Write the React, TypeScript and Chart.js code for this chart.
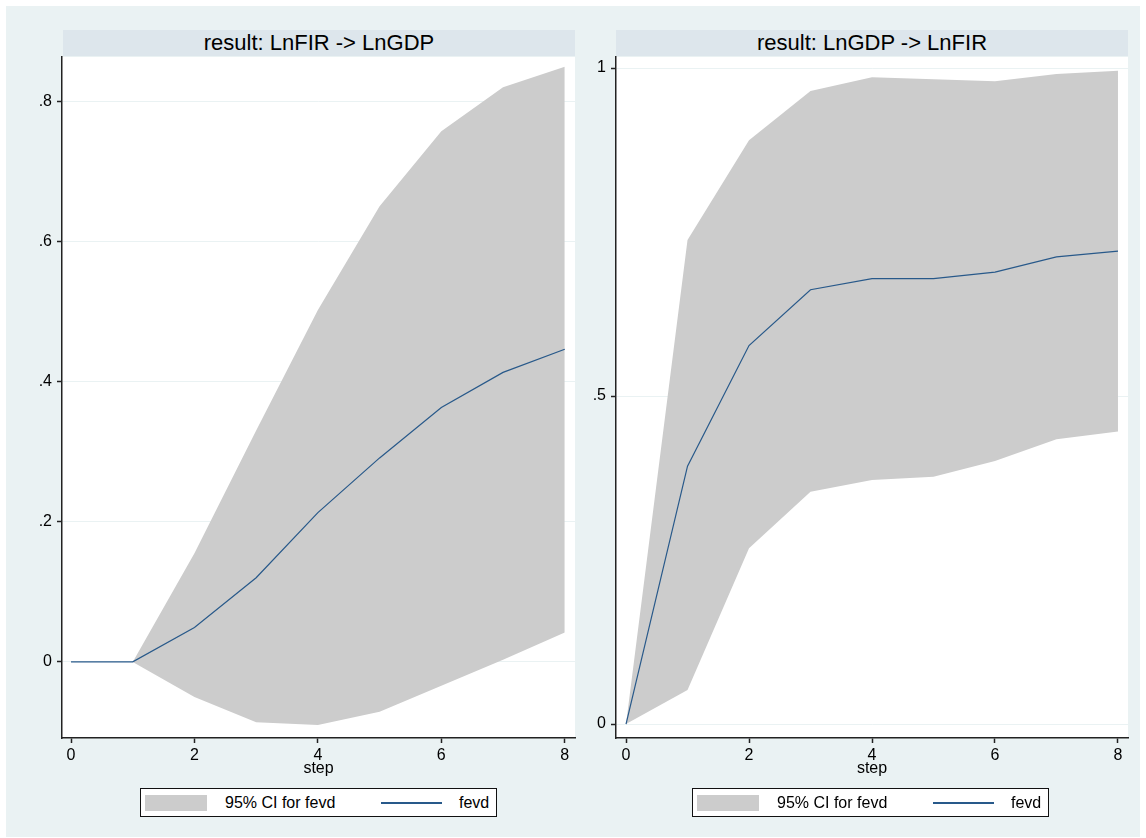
import React, { useEffect, useRef } from "react";
import { Chart, registerables } from "chart.js";

Chart.register(...registerables);

// ---------- data ----------
const steps = [0, 1, 2, 3, 4, 5, 6, 7, 8];
const xTickValues = [0, 2, 4, 6, 8];

const leftTitle = "result: LnFIR -> LnGDP";
const leftFevd = [0, 0, 0.049, 0.12, 0.213, 0.291, 0.363, 0.413, 0.446];
const leftLower = [0, 0, -0.05, -0.086, -0.09, -0.071, -0.034, 0.003, 0.042];
const leftUpper = [0, 0, 0.155, 0.33, 0.502, 0.65, 0.757, 0.82, 0.849];
const leftYTickValues = [0, 0.2, 0.4, 0.6, 0.8];
const leftYTickLabels = ["0", ".2", ".4", ".6", ".8"];

const rightTitle = "result: LnGDP -> LnFIR";
const rightFevd = [0, 0.393, 0.577, 0.662, 0.679, 0.679, 0.689, 0.712, 0.721];
const rightLower = [0, 0.052, 0.268, 0.354, 0.372, 0.377, 0.401, 0.434, 0.446];
const rightUpper = [0, 0.738, 0.89, 0.965, 0.986, 0.983, 0.98, 0.991, 0.996];
const rightYTickValues = [0, 0.5, 1];
const rightYTickLabels = ["0", ".5", "1"];

const xAxisTitle = "step";
const ciLabel = "95% CI for fevd";
const fevdLabel = "fevd";

// ---------- styles ----------
const FONT = "'Liberation Sans', Arial, Helvetica, sans-serif";
const BG = "#EAF2F3";
const STRIP = "#DDE6EC";
const CI_COLOR = "#CCCCCC";
const LINE_COLOR = "#28598A";
const AXIS_COLOR = "#222222";
const GRID_COLOR = "#EAF2F3";

type PanelCfg = {
  fevd: number[];
  lower: number[];
  upper: number[];
  yTicks: number[];
  yLabels: string[];
  xMin: number;
  xMax: number;
  yMin: number;
  yMax: number;
  yAxisWidth: number;
  padRight: number;
};

const whiteArea = {
  id: "whiteArea",
  beforeDraw(chart: any) {
    const { ctx, chartArea } = chart;
    if (!chartArea) return;
    ctx.save();
    ctx.fillStyle = "#ffffff";
    ctx.fillRect(
      chartArea.left,
      chartArea.top,
      chartArea.right - chartArea.left,
      chartArea.bottom - chartArea.top
    );
    ctx.restore();
  },
};

function Panel({ cfg, width, height }: { cfg: PanelCfg; width: number; height: number }) {
  const ref = useRef<HTMLCanvasElement | null>(null);
  useEffect(() => {
    if (!ref.current) return;
    const pts = (arr: number[]) => steps.map((s, i) => ({ x: s, y: arr[i] }));
    const chart = new Chart(ref.current, {
      type: "line",
      data: {
        datasets: [
          {
            label: fevdLabel,
            data: pts(cfg.fevd),
            borderColor: LINE_COLOR,
            borderWidth: 1.2,
            pointRadius: 0,
            fill: false,
            tension: 0,
          },
          {
            label: "lower",
            data: pts(cfg.lower),
            borderColor: "rgba(0,0,0,0)",
            borderWidth: 1,
            pointRadius: 0,
            fill: false,
            tension: 0,
          },
          {
            label: ciLabel,
            data: pts(cfg.upper),
            borderColor: "rgba(0,0,0,0)",
            backgroundColor: CI_COLOR,
            borderWidth: 1,
            pointRadius: 0,
            fill: 1,
            tension: 0,
          },
        ],
      },
      options: {
        animation: false,
        responsive: false,
        maintainAspectRatio: false,
        layout: { padding: { left: 0, top: 7, right: cfg.padRight, bottom: 12 } },
        plugins: {
          legend: { display: false },
          tooltip: { enabled: false },
          title: { display: false },
        },
        scales: {
          x: {
            type: "linear",
            min: cfg.xMin,
            max: cfg.xMax,
            afterBuildTicks: (scale: any) => {
              scale.ticks = xTickValues.map((v) => ({ value: v }));
            },
            afterFit: (scale: any) => {
              scale.height = 40;
              scale.paddingLeft = 0;
              scale.paddingRight = 0;
            },
            ticks: {
              autoSkip: false,
              maxRotation: 0,
              padding: 3,
              color: "#000",
              font: { family: FONT, size: 16 },
              callback: (v: any) => String(v),
            },
            grid: {
              drawOnChartArea: false,
              drawTicks: true,
              tickLength: 5,
              tickColor: AXIS_COLOR,
              tickWidth: 1.5,
            },
            border: { display: true, color: AXIS_COLOR, width: 1.5 },
            title: {
              display: true,
              text: xAxisTitle,
              color: "#000",
              font: { family: FONT, size: 16 },
              padding: { top: 0, bottom: 0 },
            },
          },
          y: {
            type: "linear",
            min: cfg.yMin,
            max: cfg.yMax,
            afterBuildTicks: (scale: any) => {
              scale.ticks = cfg.yTicks.map((v) => ({ value: v }));
            },
            afterFit: (scale: any) => {
              scale.width = cfg.yAxisWidth;
              scale.paddingTop = 0;
              scale.paddingBottom = 0;
            },
            ticks: {
              autoSkip: false,
              padding: 5,
              color: "#000",
              font: { family: FONT, size: 16 },
              callback: (v: any) => {
                const i = cfg.yTicks.findIndex((t) => Math.abs(t - Number(v)) < 1e-9);
                return i >= 0 ? cfg.yLabels[i] : "";
              },
            },
            grid: {
              drawOnChartArea: true,
              color: GRID_COLOR,
              lineWidth: 1,
              drawTicks: true,
              tickLength: 5,
              tickColor: AXIS_COLOR,
              tickWidth: 1.5,
            },
            border: { display: true, color: AXIS_COLOR, width: 1.5 },
          },
        },
      },
      plugins: [whiteArea],
    });
    return () => chart.destroy();
  }, [cfg]);
  return <canvas ref={ref} width={width} height={height} style={{ display: "block", width, height }} />;
}

function Legend({ left, top }: { left: number; top: number }) {
  return (
    <div
      style={{
        position: "absolute",
        left,
        top,
        width: 355,
        height: 27,
        border: "1.5px solid #111",
        background: "#fff",
        fontFamily: FONT,
        fontSize: 16,
        color: "#000",
      }}
    >
      <div style={{ position: "absolute", left: 4, top: 6, width: 62, height: 16, background: CI_COLOR }} />
      <div style={{ position: "absolute", left: 84, top: 0, lineHeight: "27px", whiteSpace: "nowrap" }}>{ciLabel}</div>
      <div style={{ position: "absolute", left: 240, top: 13, width: 61, height: 1.5, background: LINE_COLOR }} />
      <div style={{ position: "absolute", left: 318, top: 0, lineHeight: "27px", whiteSpace: "nowrap" }}>{fevdLabel}</div>
    </div>
  );
}

function Strip({ left, text }: { left: number; text: string }) {
  return (
    <div
      style={{
        position: "absolute",
        left,
        top: 30,
        width: 512,
        height: 26,
        background: STRIP,
        fontFamily: FONT,
        fontSize: 22,
        lineHeight: "26px",
        textAlign: "center",
        color: "#000",
        whiteSpace: "nowrap",
      }}
    >
      {text}
    </div>
  );
}

const leftCfg: PanelCfg = {
  fevd: leftFevd,
  lower: leftLower,
  upper: leftUpper,
  yTicks: leftYTickValues,
  yLabels: leftYTickLabels,
  xMin: -0.146,
  xMax: 8.166,
  yMin: -0.1086,
  yMax: 0.863,
  yAxisWidth: 56,
  padRight: 5,
};

const rightCfg: PanelCfg = {
  fevd: rightFevd,
  lower: rightLower,
  upper: rightUpper,
  yTicks: rightYTickValues,
  yLabels: rightYTickLabels,
  xMin: -0.163,
  xMax: 8.163,
  yMin: -0.0213,
  yMax: 1.0168,
  yAxisWidth: 36,
  padRight: 12,
};

export default function App() {
  return (
    <div style={{ position: "absolute", left: 0, top: 0, width: 1146, height: 838, background: "#fff", overflow: "hidden" }}>
      <div style={{ position: "absolute", left: 6, top: 6, width: 1134, height: 831, background: BG }} />
      <Strip left={63} text={leftTitle} />
      <Strip left={616} text={rightTitle} />
      <div style={{ position: "absolute", left: 6, top: 50 }}>
        <Panel cfg={leftCfg} width={574} height={740} />
      </div>
      <div style={{ position: "absolute", left: 580, top: 50 }}>
        <Panel cfg={rightCfg} width={560} height={740} />
      </div>
      <Legend left={140} top={788} />
      <Legend left={692} top={788} />
    </div>
  );
}
